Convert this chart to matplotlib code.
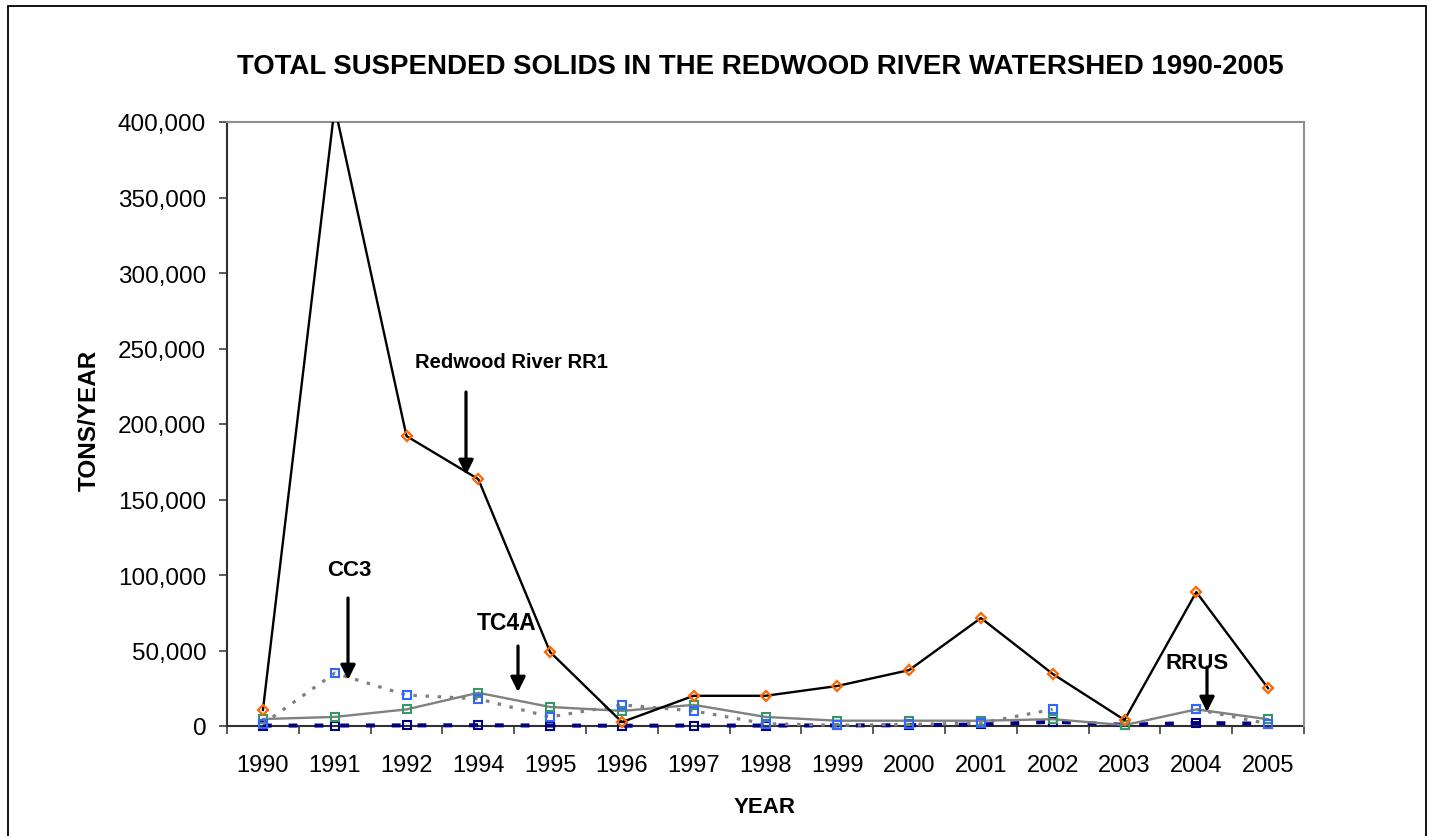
import numpy as np
import matplotlib
matplotlib.use("Agg")
import matplotlib.pyplot as plt
from matplotlib.patches import Rectangle
from matplotlib.ticker import FuncFormatter, FixedLocator

plt.rcParams['font.family'] = ['Liberation Sans', 'DejaVu Sans']

years = ['1990', '1991', '1992', '1994', '1995', '1996', '1997', '1998',
         '1999', '2000', '2001', '2002', '2003', '2004', '2005']
rr1 = [10600, 410000, 192000, 163500, 49000, 2600, 20000, 20000,
       26500, 37000, 71500, 34500, 4000, 88700, 25000]
cc3 = [1300, 35000, 20500, 18000, 6000, 14000, 10000, 1500,
       500, 1000, 2000, 11000, np.nan, 11000, 1500]
tc4a = [4600, 6000, 11000, 22000, 12600, 10000, 14000, 6000,
        3500, 3500, 3500, 4500, 600, 11000, 4500]
rrus = [300, 300, 400, 500, 300, 200, 300, 300,
        400, 500, 1000, 2800, 800, 2000, 1500]

title = 'TOTAL SUSPENDED SOLIDS IN THE REDWOOD RIVER WATERSHED 1990-2005'
ylabel = 'TONS/YEAR'
xlabel = 'YEAR'

W, H = 1432, 837
fig = plt.figure(figsize=(W / 100, H / 100), dpi=100)
fig.patch.set_facecolor('white')

L, R, T, B = 227, 1304, 123, 727
ax = fig.add_axes([L / W, 1 - B / H, (R - L) / W, (B - T) / H])

x = np.arange(len(years))
ymax = 400000

# navy RRUS (bottom)
ax.plot(x, rrus, color='#000080', lw=2.9, linestyle=(0, (2.2, 4.2)),
        dash_capstyle='butt', marker='s', ms=6, mfc='none', mec='#000080',
        mew=1.5, clip_on=False, zorder=3)
# TC4A grey solid, green squares
ax.plot(x, tc4a, color='#808080', lw=1.7, marker='s', ms=6, mfc='none',
        mec='#339966', mew=1.5, clip_on=False, zorder=4)
# CC3 grey dotted, blue squares
ax.plot(x, cc3, color='#808080', lw=2.3, linestyle=(0, (1.1, 2.7)),
        dash_capstyle='butt', marker='s', ms=6, mfc='none', mec='#3366FF',
        mew=1.5, clip_on=False, zorder=5)
# RR1 black line, orange diamonds
rr1_arr = np.array(rr1, dtype=float)
ax.plot(x, rr1_arr, color='black', lw=1.7, zorder=6)
ax.plot(x, np.where(rr1_arr <= ymax, rr1_arr, np.nan), linestyle='none',
        marker='D', ms=5.6, mfc='none', mec='#FF6600', mew=1.6,
        clip_on=False, zorder=7)

ax.set_xlim(-0.5, len(years) - 0.5)
ax.set_ylim(0, ymax)
ax.set_yticks(np.arange(0, ymax + 1, 50000))
ax.yaxis.set_major_formatter(FuncFormatter(lambda v, p: f'{int(v):,}'))
ax.set_xticks(x)
ax.set_xticklabels(years)
ax.xaxis.set_minor_locator(FixedLocator(np.arange(-0.5, len(years), 1.0)))
ax.tick_params(axis='x', which='major', length=0, pad=20, labelsize=17)
ax.tick_params(axis='x', which='minor', length=6, width=1.2, color='#404040',
               direction='out')
ax.tick_params(axis='y', which='major', length=6, width=1.2, color='#404040',
               direction='out', pad=9, labelsize=17.5)

for s in ['left', 'bottom']:
    ax.spines[s].set_color('#303030')
    ax.spines[s].set_linewidth(1.5)
for s in ['top', 'right']:
    ax.spines[s].set_color('#909090')
    ax.spines[s].set_linewidth(1.5)
ax.spines['bottom'].set_zorder(2)

# titles
fig.text(760 / W, 1 - 67 / H, title, ha='center', va='center',
         fontsize=19.9, fontweight='bold')
fig.text(89 / W, 1 - 420 / H, ylabel, ha='center', va='center',
         rotation=90, fontsize=17.5, fontweight='bold')
fig.text(765 / W, 1 - 808 / H, xlabel, ha='center', va='center',
         fontsize=16, fontweight='bold')

# annotations (figure pixel coordinates)
def fp(px, py):
    return (px, H - py)

ann = [
    ('Redwood River RR1', (415, 363), 'left', 14.5, (466, 393), (466, 476)),
    ('CC3', (349, 571), 'center', 16, (348, 599), (348, 681)),
    ('TC4A', (507, 624), 'center', 16.5, (518, 647), (518, 693)),
    ('RRUS', (1197, 664), 'center', 16, (1207, 668), (1207, 713)),
]
for txt, pos, ha, fs, a0, a1 in ann:
    fig.text(pos[0] / W, 1 - pos[1] / H, txt, ha=ha, va='center',
             fontsize=fs, fontweight='bold')
    ax.annotate('', xy=fp(*a1), xycoords='figure pixels',
                xytext=fp(*a0), textcoords='figure pixels',
                arrowprops=dict(arrowstyle='-|>', lw=2.3, color='black',
                                mutation_scale=22, shrinkA=0, shrinkB=0),
                annotation_clip=False, zorder=10)

# outer border
fig.patches.append(Rectangle((8 / W, -0.05), (1426 - 8) / W, 1.05 - 7 / H,
                             transform=fig.transFigure, fill=False,
                             edgecolor='black', lw=1.3))

fig.savefig('out.png', dpi=100)
